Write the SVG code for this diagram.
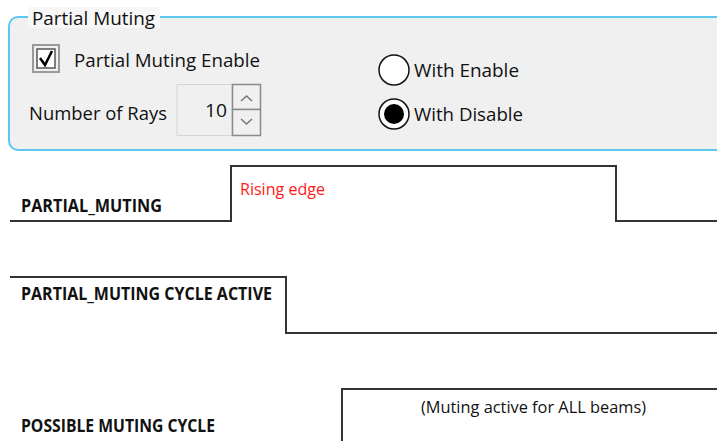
<svg xmlns="http://www.w3.org/2000/svg" width="717" height="441" viewBox="0 0 717 441">
<style>
.ui{font-family:"Open Sans","Noto Sans","DejaVu Sans",sans-serif;font-size:19px;fill:#111}
.lbl{font-family:"Open Sans","Noto Sans","DejaVu Sans",sans-serif;font-size:17px;font-weight:bold;fill:#111}
.note{font-family:"Open Sans","Noto Sans","DejaVu Sans",sans-serif;font-size:17px;fill:#111}
.red{fill:#ff1a1a}
.sig{fill:none;stroke:#333;stroke-width:2}
</style>
<rect width="717" height="441" fill="#fff"/>
<g id="panel">
<rect x="9" y="17" width="740" height="133" rx="9" fill="#f0f0f0" stroke="#5bc8f0" stroke-width="2"/>
<rect x="28" y="7" width="132" height="21" fill="#f7f7f7"/>
<text class="ui" x="32" y="25" textLength="123" lengthAdjust="spacingAndGlyphs">Partial Muting</text>
</g>
<g id="checkbox">
<rect x="33" y="45" width="26" height="27" fill="#f0f0f0" stroke="#9a9a9a" stroke-width="2"/>
<rect x="37" y="49" width="18" height="19" fill="#fff" stroke="#555" stroke-width="1.5"/>
<path d="M40,58 L45,65 L52,51" fill="none" stroke="#000" stroke-width="2.5"/>
<text class="ui" x="74" y="67" textLength="186" lengthAdjust="spacingAndGlyphs">Partial Muting Enable</text>
</g>
<g id="rays">
<text class="ui" x="29" y="120" textLength="138" lengthAdjust="spacingAndGlyphs">Number of Rays</text>
<rect x="177" y="84.5" width="55" height="51" fill="#f0f0f0" stroke="#d6d6d6" stroke-width="1"/>
<text class="ui" x="227" y="117" text-anchor="end" textLength="22" lengthAdjust="spacingAndGlyphs">10</text>
<rect x="232.5" y="84.5" width="28" height="25" fill="#f0f0f0" stroke="#8a8a8a" stroke-width="1.5"/>
<rect x="232.5" y="109.5" width="28" height="26" fill="#f0f0f0" stroke="#8a8a8a" stroke-width="1.5"/>
<path d="M241,101 L246.5,96 L252,101" fill="none" stroke="#777" stroke-width="1.5"/>
<path d="M241,119 L246.5,124 L252,119" fill="none" stroke="#777" stroke-width="1.5"/>
</g>
<g id="radio-enable">
<circle cx="394" cy="70" r="15" fill="#fff" stroke="#111" stroke-width="1.5"/>
<text class="ui" x="414" y="77" textLength="105" lengthAdjust="spacingAndGlyphs">With Enable</text>
</g>
<g id="radio-disable">
<circle cx="394" cy="114" r="15" fill="#fff" stroke="#111" stroke-width="1.5"/>
<circle cx="394" cy="114" r="10" fill="#000"/>
<text class="ui" x="414" y="121" textLength="109" lengthAdjust="spacingAndGlyphs">With Disable</text>
</g>
<g id="connectors">
<path class="sig" d="M10,221 H231 V166 H616 V221 H717"/>
<path class="sig" d="M10,277 H286 V333 H717"/>
<path class="sig" d="M342,441 V389 H717"/>
</g>
<g id="sig-partial-muting">
<text class="lbl" x="21" y="212" textLength="141" lengthAdjust="spacingAndGlyphs">PARTIAL_MUTING</text>
<text class="note red" x="240" y="195" textLength="85" lengthAdjust="spacingAndGlyphs">Rising edge</text>
</g>
<g id="sig-cycle-active">
<text class="lbl" x="21" y="300" textLength="251" lengthAdjust="spacingAndGlyphs">PARTIAL_MUTING CYCLE ACTIVE</text>
</g>
<g id="sig-possible">
<text class="lbl" x="21" y="432" textLength="194" lengthAdjust="spacingAndGlyphs">POSSIBLE MUTING CYCLE</text>
<text class="note" x="421" y="413" textLength="225" lengthAdjust="spacingAndGlyphs">(Muting active for ALL beams)</text>
</g>
</svg>
